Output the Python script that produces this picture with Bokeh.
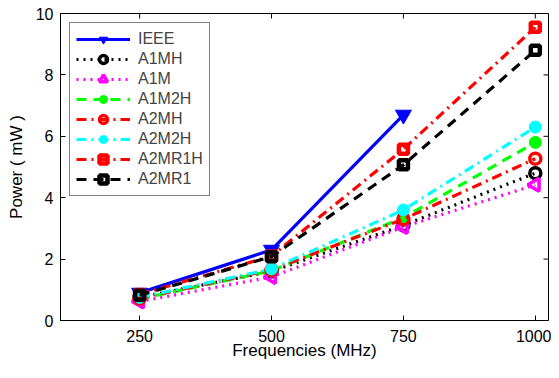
from bokeh.plotting import figure
from bokeh.models import Legend, LegendItem, FixedTicker, Range1d
from bokeh.embed import file_html
from bokeh.resources import INLINE
import math

freqs = [250, 500, 750, 1000]
freqs_ieee = [250, 500, 750]
x_ticks = [250, 500, 750, 1000]
y_ticks = [0, 2, 4, 6, 8, 10]
x_lim = (100, 1025)
y_lim = (0, 10)

ieee = [0.9, 2.3, 6.7]
a1mh = [0.75, 1.6, 3.1, 4.8]
a1m = [0.62, 1.42, 3.05, 4.42]
a1m2h = [0.7, 1.62, 3.35, 5.8]
a2mh = [0.72, 1.65, 3.3, 5.27]
a2m2h = [0.75, 1.68, 3.6, 6.3]
a2mr1h = [0.85, 2.1, 5.58, 9.55]
a2mr1 = [0.82, 2.08, 5.07, 8.8]

FONT = "Liberation Sans"

p = figure(width=551, height=362, output_backend="svg", toolbar_location=None,
           x_range=Range1d(*x_lim), y_range=Range1d(*y_lim),
           min_border_left=60, min_border_right=3, min_border_top=13, min_border_bottom=10,
           border_fill_color="white")
p.grid.visible = False
p.outline_line_color = "black"
p.outline_line_width = 1

for ax in (p.xaxis[0], p.yaxis[0]):
    ax.major_tick_in = 5
    ax.major_tick_out = 0
    ax.minor_tick_line_color = None
    ax.major_label_text_font = FONT
    ax.major_label_text_font_size = "16px"
    ax.major_label_text_color = "black"
    ax.axis_label_text_font = FONT
    ax.axis_label_text_font_size = "17px"
    ax.axis_label_text_font_style = "normal"
    ax.axis_label_text_color = "black"
    ax.axis_line_color = "black"

p.xaxis[0].ticker = FixedTicker(ticks=x_ticks)
p.yaxis[0].ticker = FixedTicker(ticks=y_ticks)
p.xaxis[0].axis_label = "Frequencies (MHz)"
p.yaxis[0].axis_label = "Power ( mW )"
p.xaxis[0].major_label_standoff = 9
p.xaxis[0].axis_label_standoff = -4
p.yaxis[0].major_label_standoff = 7
p.yaxis[0].axis_label_standoff = 7

p.scatter(x_ticks, [y_lim[1]] * len(x_ticks), marker="dash", angle=math.pi / 2,
          size=10, line_color="black", line_width=1)
p.scatter([x_lim[1]] * len(y_ticks), y_ticks, marker="dash",
          size=10, line_color="black", line_width=1)

# name, x, y, colour, dash, marker, size, filled, angle, marker line width
series = [
    ("IEEE", freqs_ieee, ieee, "#0000FF", None, "inverted_triangle", 16, True, 0, 1),
    ("A1MH", freqs, a1mh, "#000000", "2 5", "circle", 11, False, 0, 3.5),
    ("A1M", freqs, a1m, "#FF00FF", "2 5", "triangle", 13, False, math.pi / 2, 3.5),
    ("A1M2H", freqs, a1m2h, "#00FF00", "10 7", "circle", 12, True, 0, 1),
    ("A2MH", freqs, a2mh, "#FF0000", "10 5 2 5", "circle", 11, False, 0, 3.5),
    ("A2M2H", freqs, a2m2h, "#00FFFF", "10 5 2 5", "circle", 12, True, 0, 1),
    ("A2MR1H", freqs, a2mr1h, "#FF0000", "10 5 2 5", "square", 9, False, 0, 4.5),
    ("A2MR1", freqs, a2mr1, "#000000", "10 7", "square", 9, False, 0, 4.5),
]

items = []
for name, xs, ys, col, dash, marker, size, filled, ang, mlw in series:
    kw = {}
    if dash:
        kw["line_dash"] = dash
    ln = p.line(xs, ys, line_color=col, line_width=3.2, **kw)
    sc = p.scatter(xs, ys, marker=marker, size=size, angle=ang,
                   line_color=col, line_width=mlw,
                   fill_color=col if filled else "white", fill_alpha=1 if filled else 0)
    items.append(LegendItem(label=name, renderers=[ln, sc]))

leg = Legend(items=items, location="top_left", margin=9,
             glyph_width=54, glyph_height=20, label_height=20, spacing=0,
             padding=6, label_standoff=8,
             label_text_font=FONT, label_text_font_size="16px",
             border_line_color="black", border_line_width=1,
             background_fill_alpha=1)
p.add_layout(leg, "center")

open("out.html", "w").write(file_html(p, INLINE))
